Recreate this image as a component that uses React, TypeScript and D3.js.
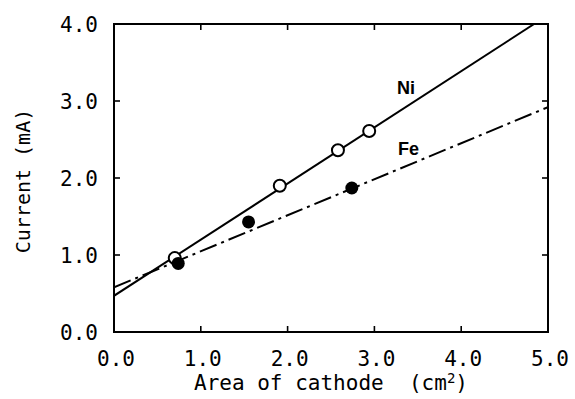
import React from "react";
import * as d3 from "d3";

const xTicks = [0, 1, 2, 3, 4, 5];
const yTicks = [0, 1, 2, 3, 4];
const niX = [0.7, 1.91, 2.58, 2.94];
const niY = [0.96, 1.9, 2.36, 2.61];
const feX = [0.74, 1.55, 2.74];
const feY = [0.89, 1.43, 1.87];
const niFitX = [0, 4.84];
const niFitY = [0.47, 4.0];
const feFitX = [0, 5];
const feFitY = [0.58, 2.92];

const W = 575;
const H = 399;
const L = 114, R = 548, T = 24, B = 332;
const MONO = "'DejaVu Sans Mono', monospace";

export default function App() {
  const x = d3.scaleLinear().domain([0, 5]).range([L, R]);
  const y = d3.scaleLinear().domain([0, 4]).range([B, T]);
  const line = d3.line<[number, number]>().x((d) => x(d[0])).y((d) => y(d[1]));
  const niPts: [number, number][] = niFitX.map((v, i) => [v, niFitY[i]]);
  const fePts: [number, number][] = feFitX.map((v, i) => [v, feFitY[i]]);
  const tl = 6;
  return (
    <svg width={W} height={H} style={{ position: "absolute", left: 0, top: 0, background: "#fff" }}>
      <defs>
        <clipPath id="plot">
          <rect x={L} y={T} width={R - L} height={B - T} />
        </clipPath>
      </defs>
      <rect x={0} y={0} width={W} height={H} fill="#fff" />
      {/* ticks */}
      {xTicks.filter((t) => t > 0 && t < 5).map((t) => (
        <g key={"xt" + t} stroke="#000" strokeWidth={1.6}>
          <line x1={x(t)} x2={x(t)} y1={B} y2={B - tl} />
          <line x1={x(t)} x2={x(t)} y1={T} y2={T + tl} />
        </g>
      ))}
      {yTicks.filter((t) => t > 0 && t < 4).map((t) => (
        <g key={"yt" + t} stroke="#000" strokeWidth={1.6}>
          <line x1={L} x2={L + tl} y1={y(t)} y2={y(t)} />
          <line x1={R} x2={R - tl} y1={y(t)} y2={y(t)} />
        </g>
      ))}
      {/* frame */}
      <rect x={L} y={T} width={R - L} height={B - T} fill="none" stroke="#000" strokeWidth={2} />
      {/* tick labels */}
      {xTicks.map((t) => (
        <text key={"xl" + t} x={x(t) + 2} y={366} textAnchor="middle" fontFamily={MONO} fontSize={21} fill="#000">
          {t.toFixed(1)}
        </text>
      ))}
      {yTicks.map((t) => (
        <text key={"yl" + t} x={98} y={y(t) + 8} textAnchor="end" fontFamily={MONO} fontSize={21} fill="#000">
          {t.toFixed(1)}
        </text>
      ))}
      {/* axis titles */}
      <text x={(L + R) / 2} y={390} textAnchor="middle" fontFamily={MONO} fontSize={21} fill="#000" style={{ whiteSpace: "pre" }}>
        {"Area of cathode  (cm"}<tspan dy={-7} fontSize={14}>2</tspan><tspan dy={7}>)</tspan>
      </text>
      <text transform={`translate(30,181) rotate(-90)`} textAnchor="middle" fontFamily={MONO} fontSize={20} fill="#000">
        Current (mA)
      </text>
      {/* fit lines */}
      <g clipPath="url(#plot)">
        <path d={line(niPts) || ""} fill="none" stroke="#000" strokeWidth={2} />
        <path d={line(fePts) || ""} fill="none" stroke="#000" strokeWidth={2} strokeDasharray="18,5,3,5" />
      </g>
      {/* points */}
      {niX.map((v, i) => (
        <circle key={"ni" + i} cx={x(v)} cy={y(niY[i])} r={6} fill="#fff" stroke="#000" strokeWidth={2} />
      ))}
      {feX.map((v, i) => (
        <circle key={"fe" + i} cx={x(v)} cy={y(feY[i])} r={6.5} fill="#000" />
      ))}
      {/* series labels */}
      <text x={397} y={94} fontFamily="'Liberation Sans', Arial, sans-serif" fontWeight="bold" fontSize={18} fill="#000">Ni</text>
      <text x={398} y={155} fontFamily="'Liberation Sans', Arial, sans-serif" fontWeight="bold" fontSize={18} fill="#000">Fe</text>
    </svg>
  );
}
